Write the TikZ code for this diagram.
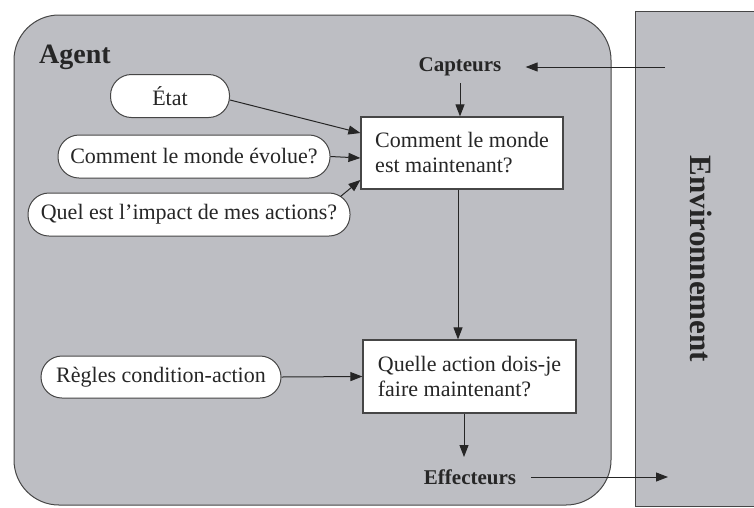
\documentclass[tikz,border=0pt]{standalone}
\usepackage{fontspec}
\setmainfont{Liberation Serif}
\usetikzlibrary{arrows.meta,calc}
\definecolor{fondgris}{RGB}{189,190,195}
\definecolor{trait}{RGB}{70,70,70}
\begin{document}
\begin{tikzpicture}[x=1pt, y=-1pt,
  txt/.style={font=\fontsize{22}{25}\selectfont, text=black!85},
  bulle/.style={txt, draw=trait, fill=white, line width=1pt, rounded corners=21pt, minimum height=43pt, inner sep=0pt},
  boite/.style={txt, draw=trait, fill=white, line width=1.2pt, align=left, inner sep=0pt},
  etiq/.style={font=\bfseries\fontsize{21}{24}\selectfont, text=black!85, inner sep=0pt},
  fleche/.style={draw=black!85, line width=1pt, -{Triangle[length=12pt,width=9pt]}}]
\useasboundingbox (0,0) rectangle (754,507);
% agent et environnement
\draw[trait, fill=fondgris, line width=1pt, rounded corners=45pt] (14,15) rectangle (611,505);
\fill[fondgris] (635,11) rectangle (754,506);
\draw[trait, line width=1pt] (754,11) -- (635,11) -- (635,506) -- (754,506);
\node[font=\bfseries\fontsize{28}{30}\selectfont, text=black!85, anchor=base west, inner sep=0pt] (agent) at (39,63) {Agent};
\node[font=\bfseries\fontsize{31}{34}\selectfont, text=black!85, rotate=-90, inner sep=0pt] (env) at (701,259) {Environnement};
% capteurs, effecteurs
\node[etiq] (capteurs) at (460,67) {Capteurs};
\node[etiq] (effecteurs) at (470,477) {Effecteurs};
\coordinate (envin) at (665,67);
\coordinate (envout) at (668,477);
% boites
\node[boite, minimum width=202pt, minimum height=72pt] (monde) at (462,153) {Comment le monde\\est maintenant?};
\node[boite, minimum width=213pt, minimum height=73pt] (action) at (469.5,376.5) {Quelle action dois-je\\faire maintenant?};
% bulles
\node[bulle, minimum width=119pt] (etat) at (170,96) {État};
\node[bulle, minimum width=272pt] (evolue) at (194,156.5) {Comment le monde évolue?};
\node[bulle, minimum width=322pt] (impact) at (189,214.5) {Quel est l’impact de mes actions?};
\node[bulle, minimum width=240pt, minimum height=42pt] (regles) at (161,377) {Règles condition-action};
% fleches
\draw[fleche] (envin) -- ([xshift=24pt]capteurs.east);
\draw[fleche] ([yshift=-7pt]capteurs.south) -- (capteurs.south |- monde.north);
\draw[fleche] ([yshift=-4pt]etat.east) -- ([yshift=20pt]monde.west);
\draw[fleche] (evolue.east) -- ([yshift=-5pt]monde.west);
\draw[fleche] ([shift={(-10pt,-4pt)}]impact.north east) -- ([yshift=-27pt]monde.west);
\draw[fleche] ([xshift=-4pt]monde.south) -- ([xshift=-4pt]monde.south |- action.north);
\draw[fleche] (regles.east) -- (action.west);
\draw[fleche] ([xshift=-5.5pt]action.south) -- ([xshift=-5.5pt]action.south |- 0,457);
\draw[fleche] ([xshift=15pt]effecteurs.east) -- (envout);
\end{tikzpicture}
\end{document}
